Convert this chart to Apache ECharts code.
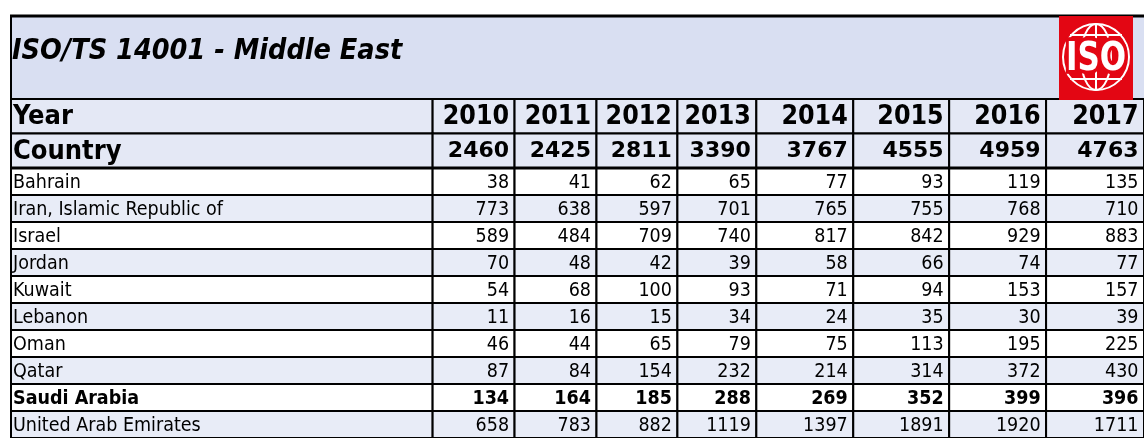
<!DOCTYPE html>
<html><head><meta charset="utf-8">
<script src="https://cdn.jsdelivr.net/npm/echarts/dist/echarts.min.js"></script>
<style>html,body{margin:0;padding:0;background:#fff}#c{width:1144px;height:438px}</style>
</head><body><div id="c"></div>
<script>
// ---- data ----
const titleText = 'ISO/TS 14001 - Middle East';
const headerLabels = ['Year', 'Country'];
const years = ['2010', '2011', '2012', '2013', '2014', '2015', '2016', '2017'];
const totals = [2460, 2425, 2811, 3390, 3767, 4555, 4959, 4763];
const countries = ['Bahrain', 'Iran, Islamic Republic of', 'Israel', 'Jordan', 'Kuwait',
  'Lebanon', 'Oman', 'Qatar', 'Saudi Arabia', 'United Arab Emirates'];
const bahrain = [38, 41, 62, 65, 77, 93, 119, 135];
const iran = [773, 638, 597, 701, 765, 755, 768, 710];
const israel = [589, 484, 709, 740, 817, 842, 929, 883];
const jordan = [70, 48, 42, 39, 58, 66, 74, 77];
const kuwait = [54, 68, 100, 93, 71, 94, 153, 157];
const lebanon = [11, 16, 15, 34, 24, 35, 30, 39];
const oman = [46, 44, 65, 79, 75, 113, 195, 225];
const qatar = [87, 84, 154, 232, 214, 314, 372, 430];
const saudiArabia = [134, 164, 185, 288, 269, 352, 399, 396];
const uae = [658, 783, 882, 1119, 1397, 1891, 1920, 1711];
const rowValues = [bahrain, iran, israel, jordan, kuwait, lebanon, oman, qatar, saudiArabia, uae];
const boldCountry = 'Saudi Arabia';

// ---- layout / style ----
const colWidths = [422, 82, 82, 81, 79, 97, 96, 97, 98];
const edges = [0];
colWidths.forEach(w => edges.push(edges[edges.length - 1] + w));
const FONT = 'DejaVu Sans';
const FONT_C = 'DejaVu Sans Condensed';
const C_TITLE = '#d9dff2', C_HEAD = '#e4e8f5', C_ALT = '#e8ecf7';
const PAD = 5.5;

const headData = [];
for (let r = 0; r < headerLabels.length; r++) for (let c = 0; c < colWidths.length; c++) headData.push([c, r]);
const bodyData = [];
for (let r = 0; r < countries.length; r++) for (let c = 0; c < colWidths.length; c++) bodyData.push([c, r]);

function cellRect(api, col, row) {
  const x0 = api.coord([edges[col], row])[0];
  const x1 = api.coord([edges[col + 1], row])[0];
  const cy = api.coord([0, row])[1];
  const h = api.size([0, 1])[1];
  return { x: x0, y: cy - h / 2, w: x1 - x0, h: h, cy: cy };
}

function renderHead(params, api) {
  const col = api.value(0), row = api.value(1);
  const r = cellRect(api, col, row);
  let text, font, size, align, tx;
  if (col === 0) { text = headerLabels[row]; font = FONT_C; size = 27; align = 'left'; tx = r.x + 2; }
  else if (row === 0) { text = years[col - 1]; font = FONT_C; size = 26.5; align = 'right'; tx = r.x + r.w - PAD; }
  else { text = String(totals[col - 1]); font = FONT; size = 22; align = 'right'; tx = r.x + r.w - PAD; }
  return { type: 'group', children: [
    { type: 'rect', shape: { x: r.x, y: r.y, width: r.w, height: r.h },
      style: { fill: C_HEAD, stroke: '#000', lineWidth: 2 } },
    { type: 'text', style: { x: tx, y: r.cy + 1, text: text, align: align, verticalAlign: 'middle',
      fontFamily: font, fontWeight: 'bold', fontSize: size, fill: '#000' } }
  ] };
}

function renderBody(params, api) {
  const col = api.value(0), row = api.value(1);
  const r = cellRect(api, col, row);
  const name = countries[row];
  const bold = name === boldCountry;
  const text = col === 0 ? name : String(rowValues[row][col - 1]);
  return { type: 'group', children: [
    { type: 'rect', shape: { x: r.x, y: r.y, width: r.w, height: r.h },
      style: { fill: row % 2 ? C_ALT : '#ffffff', stroke: '#000', lineWidth: 2 } },
    { type: 'text', style: { x: col === 0 ? r.x + 2 : r.x + r.w - PAD, y: r.cy + 1.5, text: text,
      align: col === 0 ? 'left' : 'right', verticalAlign: 'middle',
      fontFamily: FONT_C, fontWeight: bold ? 'bold' : 'normal', fontSize: 19.5, fill: '#000' } }
  ] };
}

const chart = echarts.init(document.getElementById('c'), null, { renderer: 'canvas' });
chart.setOption({
  animation: false,
  backgroundColor: '#ffffff',
  grid: [
    { left: 11, top: 99, width: edges[edges.length - 1], height: 69 },
    { left: 11, top: 168, width: edges[edges.length - 1], height: 272 }
  ],
  xAxis: [
    { gridIndex: 0, type: 'value', min: 0, max: edges[edges.length - 1], show: false },
    { gridIndex: 1, type: 'value', min: 0, max: edges[edges.length - 1], show: false }
  ],
  yAxis: [
    { gridIndex: 0, type: 'category', data: headerLabels, inverse: true, show: false },
    { gridIndex: 1, type: 'category', data: countries, inverse: true, show: false }
  ],
  graphic: { elements: [
    { type: 'rect', shape: { x: 10, y: 16, width: 1134, height: 83 }, style: { fill: C_TITLE }, z: 1 },
    { type: 'line', shape: { x1: 10, y1: 16, x2: 1144, y2: 16 }, style: { stroke: '#000', lineWidth: 3 }, z: 5 },
    { type: 'line', shape: { x1: 11, y1: 15, x2: 11, y2: 100 }, style: { stroke: '#000', lineWidth: 2 }, z: 5 },
    { type: 'text', x: 12, y: 52, style: { text: titleText, fontFamily: FONT_C, fontWeight: 'bold',
      fontStyle: 'italic', fontSize: 28.5, fill: '#000', verticalAlign: 'middle' }, z: 5 },
    { type: 'rect', shape: { x: 1059, y: 16, width: 74, height: 84 }, style: { fill: '#e30613' }, z: 6 },
    { type: 'group', x: 1096, y: 57, z: 7, children: [
      { type: 'circle', shape: { cx: 0, cy: 0, r: 33 }, style: { fill: 'none', stroke: '#fff', lineWidth: 2 }, z: 7 },
      { type: 'ellipse', shape: { cx: 0, cy: 0, rx: 15, ry: 33 }, style: { fill: 'none', stroke: '#fff', lineWidth: 2 }, z: 7 },
      { type: 'line', shape: { x1: 0, y1: -33, x2: 0, y2: 33 }, style: { stroke: '#fff', lineWidth: 2 }, z: 7 },
      { type: 'line', shape: { x1: -26, y1: -22, x2: 26, y2: -22 }, style: { stroke: '#fff', lineWidth: 2 }, z: 7 },
      { type: 'line', shape: { x1: -26, y1: 22, x2: 26, y2: 22 }, style: { stroke: '#fff', lineWidth: 2 }, z: 7 },
      { type: 'text', x: 0, y: 3, scaleY: 1.27, z: 8, style: { text: 'ISO', fontFamily: FONT, fontWeight: 'bold',
        fontSize: 31, fill: '#fff', stroke: '#e30613', lineWidth: 6, align: 'center', verticalAlign: 'middle' } }
    ] },
    { type: 'line', shape: { x1: 10, y1: 168, x2: 1144, y2: 168 }, style: { stroke: '#000', lineWidth: 3 }, z: 20 }
  ] },
  series: [
    { type: 'custom', xAxisIndex: 0, yAxisIndex: 0, renderItem: renderHead, data: headData,
      encode: { x: 0, y: 1 }, clip: false, z: 2 },
    { type: 'custom', xAxisIndex: 1, yAxisIndex: 1, renderItem: renderBody, data: bodyData,
      encode: { x: 0, y: 1 }, clip: false, z: 2 }
  ]
});
</script></body></html>
